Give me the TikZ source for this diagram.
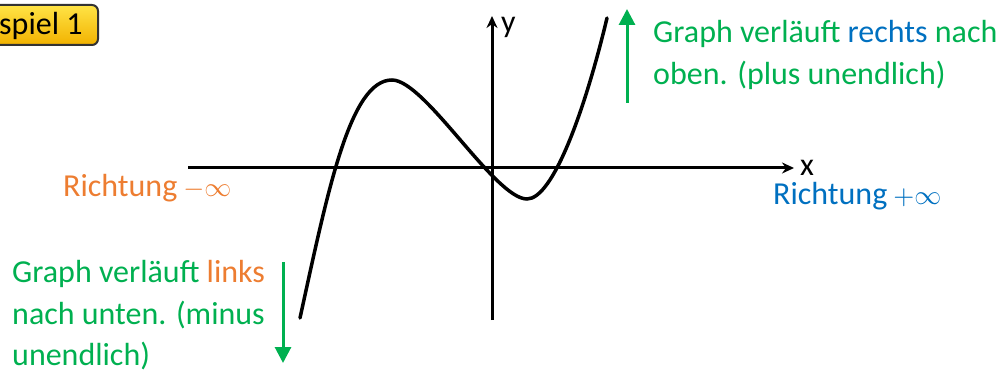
\documentclass[tikz,border=0pt]{standalone}
\usepackage{graphicx}
\usepackage{fontspec}
\setmainfont{Carlito}
\usetikzlibrary{arrows.meta}
\definecolor{offgreen}{RGB}{0,176,80}
\definecolor{offorange}{RGB}{237,125,49}
\definecolor{offblue}{RGB}{0,112,192}
\definecolor{badgetop}{RGB}{255,228,70}
\definecolor{badgebot}{RGB}{242,178,0}
\newcommand{\infsign}[1]{\hspace{6pt}\scalebox{2.7}{\fontsize{10}{12}\selectfont$#1\infty$}}
\tikzset{
  txt/.style={inner sep=0pt, anchor=base west, font=\fontsize{32}{42}\selectfont},
  axis/.style={line width=3pt, -{Stealth[length=12pt,width=11pt]}},
  grn/.style={draw=offgreen, line width=3pt, -{Triangle[length=16pt,width=16pt]}},
  curve/.style={line width=3.5pt, line cap=round},
}
\begin{document}
\begin{tikzpicture}[x=1pt,y=-1pt]
\useasboundingbox (0,0) rectangle (1000,371);
\clip (0,0) rectangle (1000,371);
% badge
\draw[line width=2pt, draw=black!80, rounded corners=6pt, top color=badgetop, bottom color=badgebot] (-20,5) rectangle (98,45);
\node[txt] (badge) at (-1,35) {spiel 1};
% axes
\coordinate (xl) at (188,168);
\coordinate (xr) at (794,168);
\coordinate (yb) at (492,320);
\coordinate (yt) at (492,16);
\draw[axis] (xl) -- (xr);
\draw[axis] (yb) -- (yt);
\node[txt] (xlab) at (800,176) {x};
\node[txt] (ylab) at (501,33) {y};
% curve
\draw[curve] (300,318) .. controls (328,190) and (350,80) .. (392,80)
  .. controls (425,80) and (495,199) .. (527,199)
  .. controls (553,199) and (585,110) .. (607,18);
% green arrows
\coordinate (ga1) at (627,103);
\coordinate (ga2) at (627,9);
\draw[grn] (ga1) -- (ga2);
\coordinate (gb1) at (283,262);
\coordinate (gb2) at (283,363);
\draw[grn] (gb1) -- (gb2);
% texts
\node[txt, text=offgreen] (t1) at (653,43) {Graph verläuft \textcolor{offblue}{rechts} nach};
\node[txt, text=offgreen] (t2) at (653,85) {oben. (plus unendlich)};
\node[txt, text=offgreen] (b1) at (12,282) {Graph verläuft \textcolor{offorange}{links}};
\node[txt, text=offgreen] (b2) at (12,324) {nach unten. (minus};
\node[txt, text=offgreen] (b3) at (12,365) {unendlich)};
\node[txt, text=offorange] (rm) at (63,197) {Richtung\infsign{-}};
\node[txt, text=offblue] (rp) at (773,205) {Richtung\infsign{+}};
\end{tikzpicture}
\end{document}
